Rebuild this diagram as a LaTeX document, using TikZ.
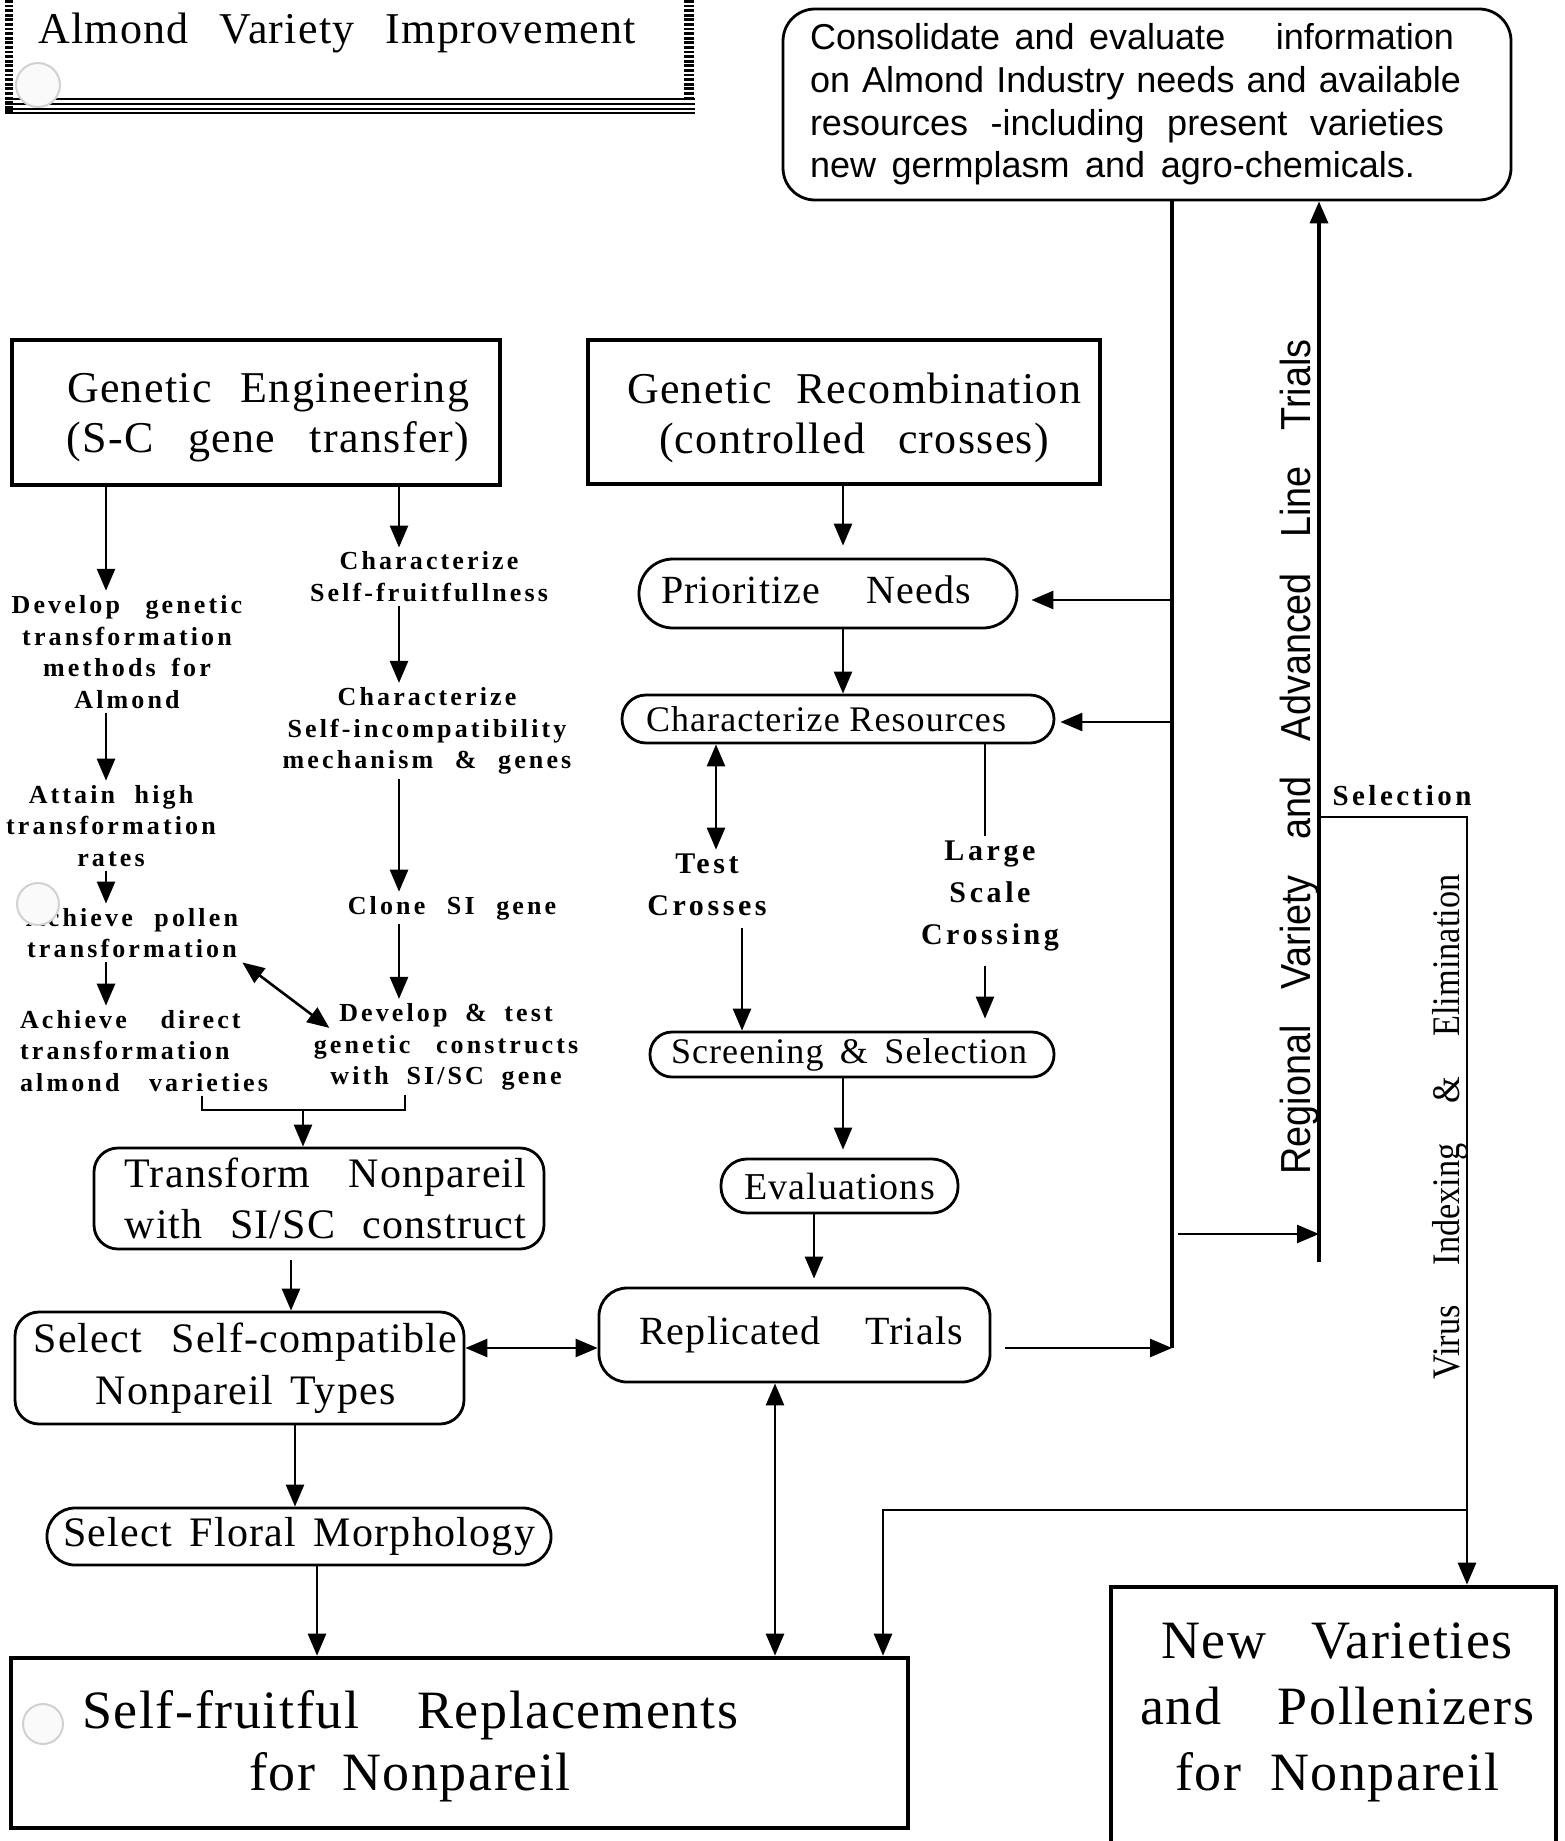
\documentclass[tikz,border=0pt]{standalone}
\usepackage{fontspec}
\setmainfont{Liberation Serif}
\newfontfamily\sansf{Liberation Sans}
\newfontfamily\spf[LetterSpace=12]{Liberation Serif}
\newfontfamily\medf[LetterSpace=3]{Liberation Serif}
\usetikzlibrary{arrows.meta}
\newcommand\Lw[2]{\makebox[#1][s]{#2}}
\begin{document}
\begin{tikzpicture}[x=0.5pt,y=-0.5pt,
  arr/.style={-{Triangle[length=11pt,width=9pt]}, line width=1.3pt},
  darr/.style={{Triangle[length=11pt,width=9pt]}-{Triangle[length=11pt,width=9pt]}, line width=1.3pt},
  link/.style={line width=1.3pt},
  heavy/.style={line width=1.7pt},
  bigbox/.style={draw, line width=2.3pt, inner sep=0pt},
  pill/.style={draw, line width=1.4pt, inner sep=0pt, align=center},
  lbl/.style={inner sep=2pt, align=center, font=\spf\bfseries\fontsize{13}{15.9}\selectfont},
  midl/.style={inner sep=2pt, align=center, font=\spf\bfseries\fontsize{15}{21}\selectfont},
  f20/.style={font=\medf\fontsize{20}{25}\selectfont},
  f22/.style={font=\medf\fontsize{22}{25}\selectfont},
  f21/.style={font=\medf\fontsize{21}{25.5}\selectfont},
  f18/.style={font=\medf\fontsize{18}{22}\selectfont},
  f27/.style={font=\medf\fontsize{27}{31}\selectfont},
  blob/.style={draw=black!18, fill=black!2, line width=1pt},
]
\useasboundingbox (0,0) rectangle (1564,1841);

% ---------- title frame ----------
\node[inner sep=0, font=\medf\fontsize{22}{24}\selectfont] (title) at (337,33) {\Lw{299pt}{Almond Variety Improvement}};
\draw[line width=4pt, dash pattern=on 1.4pt off 0.9pt] (9,0) -- (9,112);
\draw[line width=5pt, dash pattern=on 1.4pt off 0.9pt] (689,0) -- (689,100);
\foreach \yy in {99,104,109,113} \draw[line width=1.2pt] (5,\yy) -- (695,\yy);

% ---------- info box ----------
\node[draw, line width=1.4pt, rounded corners=16pt, minimum width=364pt, minimum height=95.5pt,
  inner sep=0pt, align=center,
  font=\sansf\fontsize{18}{21.3}\selectfont] (info) at (1147,104.5)
  {\makebox[337pt][l]{\Lw{322pt}{Consolidate and evaluate\hspace{18pt} information}}\\
   \makebox[337pt][l]{\Lw{325.5pt}{on Almond Industry needs and available}}\\
   \makebox[337pt][l]{\Lw{317pt}{resources -including present varieties}}\\
   \makebox[337pt][l]{\Lw{302.5pt}{new germplasm and agro-chemicals.}}};

% ---------- main boxes ----------
\node[bigbox, minimum width=244pt, minimum height=72.5pt] (ge) at (256,412.5) {};
\node[f22, align=center, inner sep=0] (get) at (268,418)
  {\Lw{201pt}{Genetic Engineering}\\ \Lw{201.5pt}{(S-C gene transfer)}};
\node[bigbox, minimum width=256pt, minimum height=72pt] (gr) at (844,412) {};
\node[f22, align=center, inner sep=0] (grt) at (854,418)
  {\Lw{227pt}{Genetic Recombination}\\ \Lw{195pt}{(controlled crosses)}};

\node[pill, f20, rounded corners=17pt, minimum width=189pt, minimum height=34.5pt, text depth=4pt] (prio) at (828,593.5)
  {\Lw{155pt}{Prioritize Needs}\hspace*{12pt}};
\node[pill, f18, rounded corners=12pt, minimum width=216pt, minimum height=24pt] (cres) at (838,719)
  {\Lw{180pt}{Characterize Resources}\hspace*{12pt}};
\node[pill, f18, rounded corners=11pt, minimum width=202pt, minimum height=22.5pt] (scr) at (852,1054.5)
  {\Lw{178pt}{Screening \& Selection}\hspace*{3pt}};
\node[pill, font=\medf\fontsize{19}{22}\selectfont, rounded corners=13pt, minimum width=118.5pt, minimum height=27pt] (eval) at (839.5,1186)
  {Evaluations};
\node[pill, f20, rounded corners=14pt, minimum width=195.5pt, minimum height=47pt] (rep) at (794.5,1335)
  {\hspace*{6.5pt}\Lw{162pt}{Replicated Trials}};

\node[pill, f21, rounded corners=12pt, minimum width=225pt, minimum height=50.5pt] (tr) at (319,1198.5)
  {\hspace*{6.5pt}\Lw{201pt}{Transform Nonpareil}\\ \hspace*{6.5pt}\Lw{201pt}{with SI/SC construct}};
\node[pill, font=\medf\fontsize{21}{26}\selectfont, rounded corners=12pt, minimum width=224.5pt, minimum height=56pt] (sc) at (239.5,1368)
  {\hspace*{6pt}\Lw{212pt}{Select Self-compatible}\\ \hspace*{6pt}\Lw{150pt}{Nonpareil Types}};
\node[pill, f21, rounded corners=14pt, minimum width=252pt, minimum height=28.5pt] (flo) at (299,1536.5)
  {\Lw{236pt}{Select Floral Morphology}};

\node[bigbox, minimum width=448.5pt, minimum height=85pt] (sfr) at (459.5,1743) {};
\node[f27, align=center, inner sep=0] (sfrt) at (410,1746)
  {\Lw{328pt}{Self-fruitful Replacements}\\ \Lw{161pt}{for Nonpareil}};

\node[bigbox, minimum width=222.5pt, minimum height=131.5pt] (nv) at (1333.5,1718.5) {};
\node[align=center, inner sep=0, font=\medf\fontsize{27}{33}\selectfont] (nvt) at (1337,1712)
  {\Lw{176pt}{New Varieties}\\ \Lw{197pt}{and Pollenizers}\\ \Lw{162pt}{for Nonpareil}};

% ---------- small labels ----------
\node[lbl] (dev) at (127,652) {Develop\hspace{8pt} genetic\\ transformation\\ methods\hspace{3pt} for\\ Almond};
\node[lbl] (att) at (111,826) {Attain\hspace{5pt} high\\ transformation\\ rates};
\node[lbl] (pol) at (132,933) {Achieve\hspace{6pt} pollen\\ transformation};
\node[lbl, align=left] (dir) at (144,1051) {Achieve\hspace{12pt} direct\\ transformation\\ almond\hspace{10pt} varieties};

\node[lbl] (csf) at (429,577) {Characterize\\ Self-fruitfullness};
\node[lbl] (csi) at (427,731) {Characterize\\ Self-incompatibility\\ mechanism\hspace{6pt} \&\hspace{6pt} genes};
\node[lbl] (clo) at (452,908) {Clone\hspace{6pt} SI\hspace{6pt} gene};
\node[lbl] (con) at (446,1047) {Develop\hspace{4pt} \&\hspace{4pt} test\\ genetic\hspace{8pt} constructs\\ with\hspace{4pt} SI/SC\hspace{4pt} gene};

\node[midl] (tst) at (707,885) {Test\\ Crosses};
\node[midl] (lsc) at (990,896) {Large\\ Scale\\ Crossing};
\node[midl, font=\spf\bfseries\fontsize{14.5}{18}\selectfont] (sel) at (1402,796) {Selection};

\node[rotate=90, inner sep=0] (reg) at (1300,757)
  {\scalebox{0.9}[1]{\sansf\fontsize{21}{21}\selectfont\Lw{464pt}{Regional Variety and Advanced Line Trials}}};
\node[rotate=90, inner sep=0] (vir) at (1450,1127)
  {\scalebox{0.88}[1]{\fontsize{19.5}{19.5}\selectfont\Lw{287pt}{Virus Indexing \& Elimination}}};

% ---------- helper coordinates ----------
\coordinate (xL) at (106,0);
\coordinate (xR) at (399,0);
\coordinate (xM) at (843,0);
\coordinate (xT) at (716,0);
\coordinate (xT2) at (742,0);
\coordinate (xG) at (985,0);
\coordinate (xE) at (814,0);
\coordinate (xTr) at (291,0);
\coordinate (xS) at (295,0);
\coordinate (xF) at (317,0);
\coordinate (xRS) at (775,0);
\coordinate (vA) at (1172,1348);
\coordinate (pA) at (1172,600);
\coordinate (cA) at (1172,722);
\coordinate (hB) at (1178,1234);
\coordinate (vB) at (1319,1234);
\coordinate (vBb) at (1319,1262);
\coordinate (sA) at (1319,817);
\coordinate (sB) at (1467,817);
\coordinate (jn) at (1467,1510);
\coordinate (kn) at (883,1510);
\coordinate (bL) at (202,0);
\coordinate (bR) at (405,0);
\coordinate (bM) at (303,1110);

% ---------- connectors: genetic engineering ----------
\draw[arr] (xL |- ge.south) -- (xL |- dev.north);
\draw[arr] (xL |- dev.south) -- (xL |- att.north);
\draw[arr] (xL |- att.south) -- (xL |- pol.north);
\draw[arr] (xL |- pol.south) -- (xL |- dir.north);
\draw[arr] (xR |- ge.south) -- (xR |- csf.north);
\draw[arr] (xR |- csf.south) -- (xR |- csi.north);
\draw[arr] (xR |- csi.south) -- (xR |- clo.north);
\draw[arr] (xR |- clo.south) -- (xR |- con.north);
\draw[darr] (pol.south east) -- ([shift={(20,29)}]con.north west);
\draw[link] (bL |- dir.south) |- (bM) -| (bR |- con.south);
\draw[arr] (bM) -- (bM |- tr.north);
\draw[arr, shorten <=5pt] (xTr |- tr.south) -- (xTr |- sc.north);
\draw[darr] (sc.east |- vA) -- (rep.west |- vA);
\draw[arr] (xS |- sc.south) -- (xS |- flo.north);
\draw[arr] (xF |- flo.south) -- (xF |- sfr.north);

% ---------- connectors: recombination ----------
\draw[arr, shorten >=6pt] (xM |- gr.south) -- (xM |- prio.north);
\draw[arr] (xM |- prio.south) -- (xM |- cres.north);
\draw[darr] (xT |- cres.south) -- (xT |- tst.north);
\draw[arr, shorten <=4pt] (xT2 |- tst.south) -- (xT2 |- scr.north);
\draw[link] (xG |- cres.south) -- (xG |- lsc.north);
\draw[arr, shorten <=5pt, shorten >=6pt] (xG |- lsc.south) -- (xG |- scr.north);
\draw[arr, shorten >=4pt] (xM |- scr.south) -- (xM |- eval.north);
\draw[arr, shorten >=4pt] (xE |- eval.south) -- (xE |- rep.north);
\draw[darr] (xRS |- rep.south) -- (xRS |- sfr.north);

% ---------- right-hand loop ----------
\draw[heavy] (info.south -| vA) -- (vA);
\draw[arr, shorten >=6.5pt] (pA) -- (prio.east |- pA);
\draw[arr, shorten >=2.5pt] (cA) -- (cres.east |- cA);
\draw[arr, shorten <=7pt] (rep.east |- vA) -- (vA);
\draw[arr] (hB) -- (vB);
\draw[arr, line width=1.7pt] (vBb) -- (info.south -| vBb);
\draw[arr] (sA) -- (sB) -- (sB |- nv.north);
\draw[arr] (jn) -- (kn) -- (kn |- sfr.north);

% ---------- scan blobs ----------
\draw[blob] (38,85) circle[radius=11pt];
\draw[blob] (38,904) circle[radius=10.5pt];
\draw[blob] (43,1724) circle[radius=10pt];
\end{tikzpicture}
\end{document}
